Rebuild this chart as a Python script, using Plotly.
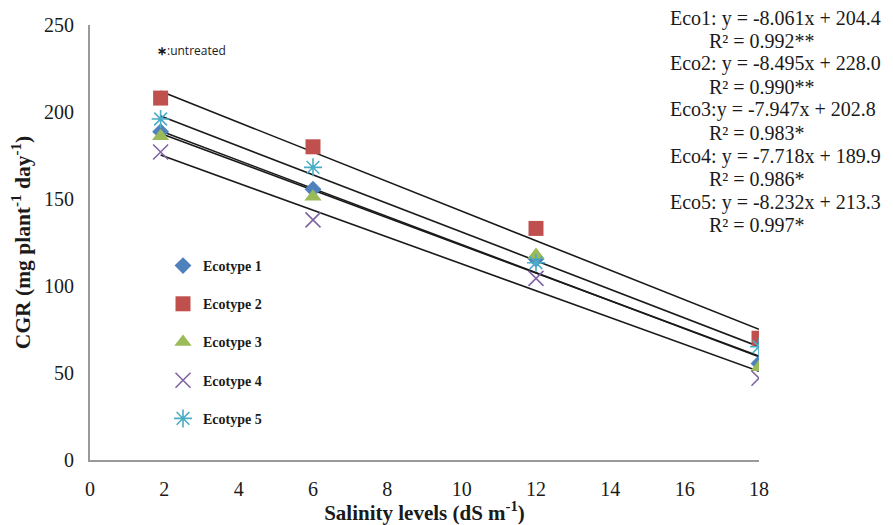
import plotly.graph_objects as go

salinity = [1.9, 6, 12, 18]
names = ["Ecotype 1", "Ecotype 2", "Ecotype 3", "Ecotype 4", "Ecotype 5"]
eco1 = [188.7, 155.6, 115.5, 55.5]
eco2 = [208.0, 180.0, 133.1, 70.0]
eco3 = [186.0, 151.3, 117.8, 53.3]
eco4 = [177.0, 138.0, 104.4, 47.0]
eco5 = [196.0, 168.2, 113.4, 65.1]
slopes = [-8.061, -8.495, -7.947, -7.718, -8.232]
intercepts = [204.4, 228.0, 202.8, 189.9, 213.3]
eq_labels = ["Eco1: y = -8.061x + 204.4", "R² = 0.992**",
             "Eco2: y = -8.495x + 228.0", "R² = 0.990**",
             "Eco3:y = -7.947x + 202.8", "R² = 0.983*",
             "Eco4: y = -7.718x + 189.9", "R² = 0.986*",
             "Eco5: y = -8.232x + 213.3", "R² = 0.997*"]

series = [eco1, eco2, eco3, eco4, eco5]
colors = ["#4F81BD", "#C0504D", "#9BBB59", "#8064A2", "#4BACC6"]
symbols = ["diamond", "square", "triangle-up", "x-thin-open", "asterisk-open"]
sizes = [13, 15, 15, 15, 15]

SERIF = "Liberation Serif, Times New Roman, serif"

fig = go.Figure()

# trend lines from regression equations
for s, b in zip(slopes, intercepts):
    xs = [salinity[0], salinity[-1]]
    fig.add_trace(go.Scatter(x=xs, y=[s * v + b for v in xs], mode="lines",
                             line=dict(color="#1a1a1a", width=1.6),
                             showlegend=False, hoverinfo="skip"))

for i, (nm, ys) in enumerate(zip(names, series)):
    thin = symbols[i] in ("x-thin-open", "asterisk-open")
    fig.add_trace(go.Scatter(
        x=salinity, y=ys, mode="markers", name=nm, legendgroup=nm,
        marker=dict(symbol=symbols[i], size=sizes[i], color=colors[i],
                    line=dict(color=colors[i], width=1.6 if thin else 0)),
    ))

annotations = []
# equations (positions given relative to the plot area: left 90, width 669, bottom 460, height 435)
for k, txt in enumerate(eq_labels):
    py = 18 + 23 * k
    px = 668 if k % 2 == 0 else 707
    annotations.append(dict(text=txt, xref="paper", yref="paper",
                            x=(px - 90) / 669, y=(460 - py) / 435,
                            xanchor="left", yanchor="middle", showarrow=False,
                            font=dict(family=SERIF, size=20, color="#1a1a1a")))
annotations.append(dict(text="<b>∗</b>:untreated", xref="paper", yref="paper",
                        x=(155 - 90) / 669, y=(460 - 50) / 435,
                        xanchor="left", yanchor="middle", showarrow=False,
                        font=dict(family="Open Sans, Liberation Sans, sans-serif", size=12, color="#1a1a1a")))

# page body has an 8px margin, so the figure is shrunk by 8px and margins compensated
fig.update_layout(
    width=885, height=517,
    margin=dict(l=82, r=134, t=17, b=65, autoexpand=False),
    plot_bgcolor="white", paper_bgcolor="white",
    font=dict(family=SERIF, color="#1a1a1a"),
    showlegend=True,
    legend=dict(x=(163 - 90) / 669, y=(460 - 250) / 435, xanchor="left", yanchor="top",
                font=dict(family=SERIF, size=14, color="#1a1a1a", weight="bold"),
                tracegroupgap=17, bgcolor="rgba(0,0,0,0)", itemwidth=30),
    annotations=annotations,
    xaxis=dict(range=[0, 18], dtick=2, showgrid=False, zeroline=False, automargin=False,
               showline=True, linecolor="#999999", linewidth=2,
               ticks="outside", ticklen=10, tickcolor="rgba(0,0,0,0)",
               tickfont=dict(family=SERIF, size=20),
               title=dict(text="<b>Salinity levels (dS m<sup>-1</sup>)</b>",
                          font=dict(family=SERIF, size=21), standoff=10)),
    yaxis=dict(range=[0, 250], dtick=50, showgrid=False, zeroline=False, automargin=False,
               showline=True, linecolor="#999999", linewidth=2,
               ticks="outside", ticklen=10, tickcolor="rgba(0,0,0,0)",
               tickfont=dict(family=SERIF, size=20),
               title=dict(text="<b>CGR (mg plant<sup>-1</sup> day<sup>-1</sup>)</b>",
                          font=dict(family=SERIF, size=21.5), standoff=12)),
)

fig.write_html("out.html")
